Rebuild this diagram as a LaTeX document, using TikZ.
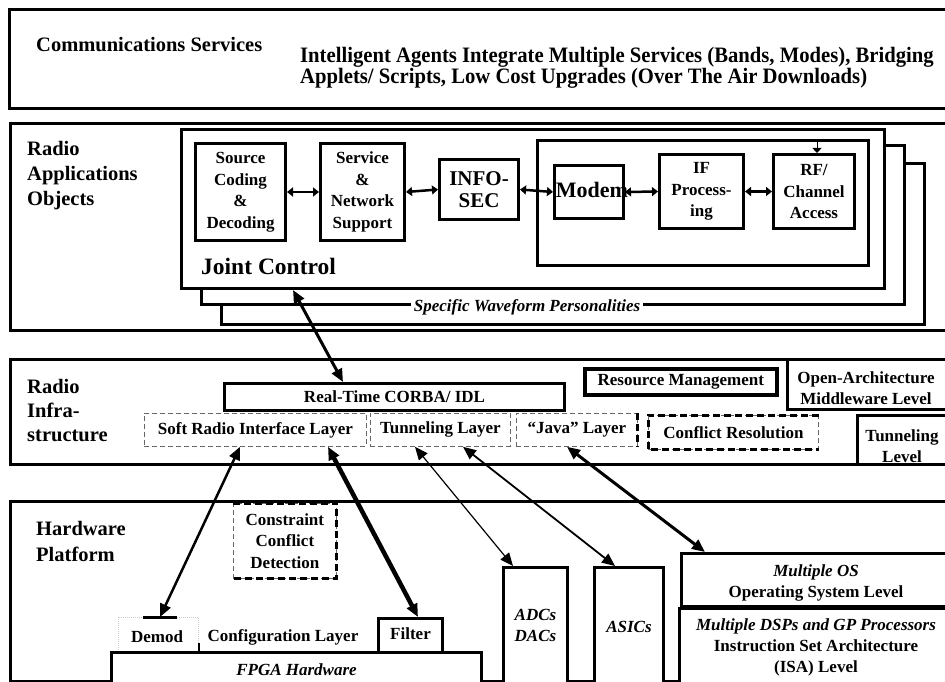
\documentclass[tikz,border=0pt]{standalone}
\usepackage{fontspec}
\usepackage{graphicx}
\setmainfont{Liberation Serif}
\usetikzlibrary{arrows.meta,calc}

\newcommand\setfz[2]{\fontsize{#1}{#2}\selectfont}
% box given by its corners: [style]{name}{x1}{y1}{x2}{y2}{text}
\newcommand\rbox[7][]{\node[#1, anchor=north west, inner sep=0pt,
  minimum width={#5-#3}, minimum height={#6-#4}] (#2) at (#3,#4) {#7};}

\tikzset{
  frame/.style={draw, line width=3pt, fill=white, align=center,
    font=\bfseries\setfz{17}{21.5}},
  thindash/.style={draw=black!60, line width=0.8pt, dash pattern=on 5pt off 3pt,
    align=center, font=\bfseries\setfz{17}{21.5}},
  thickdash/.style={line width=3pt, dash pattern=on 7pt off 4pt},
  lbl/.style={anchor=west, align=left, inner sep=0pt, font=\bfseries\setfz{20.5}{25}},
  txt/.style={align=center, inner sep=0pt, font=\bfseries\setfz{17}{21.5}},
  bigtip/.style={{Triangle[length=13pt,width=11pt]}-{Triangle[length=13pt,width=11pt]}},
  smalltip/.style={line width=2.5pt,
    {Triangle[length=6pt,width=9pt]}-{Triangle[length=6pt,width=9pt]}},
}

\begin{document}
\begin{tikzpicture}[x=1pt,y=-1pt]
\useasboundingbox (0,0) rectangle (945,682);
\clip (0,0) rectangle (945,682);
\fill[white] (0,0) rectangle (945,682);

% ---------- Communications Services ----------
\rbox[frame]{comm}{8}{8}{952}{107}{}
\node[lbl] (commlbl) at (36,45) {Communications Services};
\node[lbl, font=\bfseries\setfz{22}{21}] (intel) at (300,68)
  {\scalebox{0.94}[1]{Intelligent Agents Integrate Multiple Services (Bands, Modes), Bridging}\\
   \scalebox{0.94}[1]{Applets/ Scripts, Low Cost Upgrades (Over The Air Downloads)}};

% ---------- Radio Applications Objects ----------
\rbox[frame]{apps}{9}{122}{952}{329}{}
\node[lbl] (appslbl) at (27,176) {Radio\\Applications\\Objects};
\rbox[frame]{stackc}{220}{162}{923}{323}{}
\rbox[frame]{stackb}{200}{144}{903}{303}{}
\rbox[frame]{jc}{180}{128}{883}{287}{}
\node[lbl, font=\bfseries\setfz{23.5}{26}] (jclbl) at (201,266) {Joint Control};
\node[txt, fill=white, inner xsep=3pt, inner ysep=2pt, font=\bfseries\itshape\setfz{17}{20}]
  (swp) at (527,307) {Specific Waveform Personalities};

\rbox[frame]{src}{194}{142}{284}{239}{Source\\Coding\\\&\\Decoding}
\rbox[frame]{svc}{319}{142}{403}{239}{Service\\\&\\Network\\Support}
\rbox[frame, font=\bfseries\setfz{21}{22.5}]{sec}{438}{158}{517}{218}{INFO-\\SEC}
\rbox[frame]{grp}{536}{139}{867}{264}{}
\rbox[frame]{modem}{553}{164}{622}{217}{}
\node[txt, font=\bfseries\setfz{22}{24}] (modemtxt) at (592,190) {Modem};
\rbox[frame]{ifp}{658}{153}{742}{227}{IF\\Process-\\ing}
\rbox[frame]{rf}{772}{153}{853}{227}{RF/\\Channel\\Access}

\draw[smalltip] (src.east) -- (svc.west);
\draw[smalltip] (svc.east) -- (sec.west);
\draw[smalltip] (sec.east) -- (modem.west);
\draw[smalltip] (modem.east) -- (ifp.west);
\draw[smalltip] (ifp.east) -- (rf.west);
\draw[line width=1pt, -{Triangle[length=5pt,width=9pt]}]
  ([xshift=45pt]rf.north west |- grp.north) -- ([xshift=45pt]rf.north west);

% ---------- Radio Infrastructure ----------
\rbox[frame]{infra}{9}{358}{952}{463}{}
\node[lbl, font=\bfseries\setfz{20.5}{24}] (infralbl) at (27,411) {Radio\\Infra-\\structure};
\rbox[frame]{corba}{223}{382}{563}{409}{\raisebox{-4pt}{Real-Time CORBA/ IDL}}
\rbox[frame, line width=3.5pt]{res}{583}{367}{775}{393}{Resource Management}
\rbox[frame]{oa}{786}{358}{952}{408}{}
\node[txt] (oatxt) at (866,388) {Open-Architecture\\Middleware Level};
\rbox[frame]{tlev}{856}{414}{952}{463}{}
\node[txt] (tlevtxt) at (902,446) {Tunneling\\Level};

\rbox[thindash]{soft}{144}{413}{366}{446}{Soft Radio Interface Layer}
\rbox[thindash]{tunl}{370}{413}{510}{446}{Tunneling Layer}
\rbox[thindash]{java}{516}{413}{637}{446}{``Java'' Layer}
\draw[thickdash] (java.north east) -- (java.south east);
\rbox[thindash]{conf}{648}{415}{818}{449}{Conflict Resolution}
\draw[thickdash] (conf.north east) -- (conf.north west) -- (conf.south west) -- (conf.south east);

% ---------- Hardware Platform ----------
\rbox[frame]{hw}{9}{500}{952}{680}{}
\node[lbl, font=\bfseries\setfz{20.5}{26}] (hwlbl) at (36,541) {Hardware\\Platform};
\rbox[thindash]{ccd}{233}{503}{336}{578}{Constraint\\Conflict\\Detection}
\draw[thickdash] (ccd.north west) -- (ccd.north east) -- (ccd.south east) -- (ccd.south west);

\rbox[draw=black!20, line width=0.8pt, dash pattern=on 1pt off 1pt]{demod}{118}{617}{198}{651}{}
\draw[line width=3pt] ([xshift=25pt]demod.north west) -- ([xshift=59pt]demod.north west);
\node[txt] (demodtxt) at (157,637) {Demod};
\draw[line width=2.5pt] ([yshift=-26pt]demod.north east) -- (demod.south east);
\node[txt] (cfgtxt) at (283,637) {Configuration Layer};
\rbox[frame]{filter}{377}{617}{441}{651}{\raisebox{3pt}{Filter}}
\rbox[frame, font=\bfseries\itshape\setfz{17}{20}]{fpga}{110}{651}{480}{685}{FPGA Hardware}

\rbox[frame, font=\bfseries\itshape\setfz{17}{21}]{adc}{502}{566}{566}{685}{\raisebox{-8pt}{\begin{tabular}{@{}c@{}}ADCs\\DACs\end{tabular}}}
\rbox[frame, font=\bfseries\itshape\setfz{17}{21}]{asic}{593}{566}{662}{685}{ASICs}
\rbox[frame]{os}{680}{552}{952}{605}{}
\node[txt] (ostxt) at (816,583) {\itshape Multiple OS\\Operating System Level};
\rbox[frame]{dsp}{678}{607}{952}{685}{}
\node[txt, font=\bfseries\setfz{17}{21}] (dsptxt) at (816,647)
  {\itshape Multiple DSPs and GP Processors\\Instruction Set Architecture\\(ISA) Level};

% ---------- connectors between the layers ----------
\draw[line width=3pt, bigtip] ([xshift=113pt]jc.south west) -- ([xshift=120pt]corba.north west);
\draw[line width=2.5pt, bigtip] ([xshift=96pt]soft.south west) -- ([xshift=42pt]demod.north west);
\draw[line width=4.5pt, bigtip] ([xshift=184pt]soft.south west) -- ([xshift=41pt]filter.north west);
\draw[line width=1.2pt, bigtip] ([xshift=45pt]tunl.south west) -- ([xshift=11pt]adc.north west);
\draw[line width=1.8pt, bigtip] ([xshift=93pt]tunl.south west) -- ([xshift=22pt]asic.north west);
\draw[line width=3pt, bigtip] ([xshift=51pt]java.south west) -- ([xshift=25pt]os.north west);
\end{tikzpicture}
\end{document}
